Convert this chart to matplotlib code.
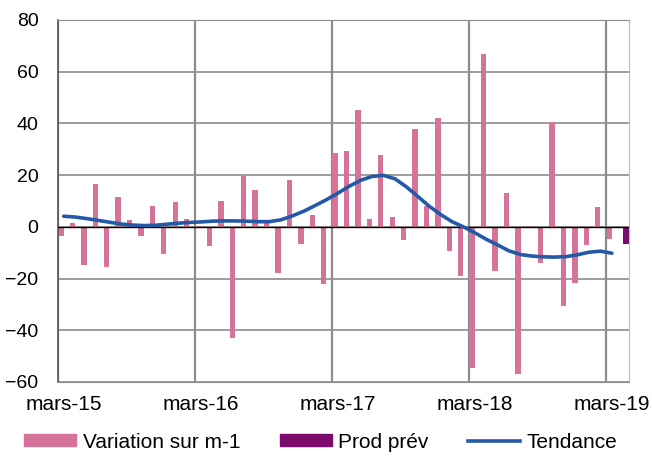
import matplotlib
matplotlib.use("Agg")
import matplotlib.pyplot as plt
from matplotlib.patches import Patch
from matplotlib.lines import Line2D

plt.rcParams['font.family'] = ['Liberation Sans', 'DejaVu Sans']

# Monthly data, mars-15 .. avril-19
month_labels = ['mars-15', 'mars-16', 'mars-17', 'mars-18', 'mars-19']
variation = [-3.5, 1.3, -14.8, 16.6, -15.6, 11.4, 2.8, -3.6, 8.0, -10.6, 9.8, 3.1,
             0.5, -7.5, 9.9, -43.1, 19.5, 14.1, 1.5, -17.9, 18.1, -6.5, 4.4, -22.2,
             28.6, 29.2, 45.2, 3.1, 27.7, 3.9, -5.2, 37.8, 8.0, 42.2, -9.5, -19.1,
             -54.5, 66.8, -17.2, 13.0, -56.9, 0.4, -14.1, 40.6, -30.8, -21.9, -7.2, 7.6,
             -4.8]
prod_prev = [-6.8]          # avril-19
tendance = [4.1, 3.8, 3.2, 2.5, 1.8, 1.1, 0.7, 0.5, 0.6, 1.0, 1.4, 1.7,
            1.9, 2.2, 2.3, 2.3, 2.2, 2.0, 2.0, 2.7, 4.2, 6.0, 8.2, 10.5,
            13.0, 15.7, 18.0, 19.5, 19.9, 18.6, 15.5, 11.8, 8.0, 4.8, 2.0, 0.0,
            -2.3, -4.8, -7.0, -9.3, -10.7, -11.3, -11.6, -11.7, -11.5, -10.8, -9.8, -9.4,
            -10.2]

n_months = len(variation) + len(prod_prev)
pink = '#D5739A'
purple = '#7B0C6E'
blue = '#2459A8'
grid_c = '#8C8C8C'

fig = plt.figure(figsize=(6.52, 4.57), dpi=100)
ax = fig.add_axes([58/652, 1-382/457, (629-58)/652, (382-20)/457])

w = 0.47
x_var = [i - w/2 for i in range(len(variation))]
x_prev = [len(variation) + w/2 + i for i in range(len(prod_prev))]
ax.bar(x_var, variation, width=w, color=pink, zorder=2)
ax.bar(x_prev, prod_prev, width=w, color=purple, zorder=2)
ax.plot(range(len(tendance)), tendance, color=blue, lw=2.6, zorder=4,
        solid_capstyle='round')
ax.axhline(0, color='black', lw=1.0, zorder=3)

ax.set_xlim(-0.5, n_months - 0.5)
ax.set_ylim(-60, 80)
ax.set_yticks(range(-60, 81, 20))
ax.yaxis.grid(True, color=grid_c, lw=1.2, zorder=0)
for gx in range(0, n_months, 12):
    ax.axvline(gx - 0.5, color=grid_c, lw=1.6, zorder=0)
ax.set_xticks(list(range(0, n_months, 12)))
ax.set_xticklabels(month_labels)
ax.tick_params(axis='both', length=0)
ax.tick_params(axis='y', pad=14, labelsize=14)
ax.tick_params(axis='x', pad=9, labelsize=15)
ax.set_axisbelow(True)
ax.spines['left'].set_color('#555555')
ax.spines['left'].set_linewidth(1.2)
ax.spines['bottom'].set_color(grid_c)
ax.spines['top'].set_color(grid_c)
ax.spines['right'].set_color('#BBBBBB')

handles = [Patch(color=pink), Patch(color=purple), Line2D([], [], color=blue, lw=2.6)]
labels = ['Variation sur m-1', 'Prod prév', 'Tendance']
fig.legend(handles, labels, loc='center', bbox_to_anchor=(0.492, 1-442/457), ncol=3,
           frameon=False, fontsize=15, handlelength=2.5, handleheight=0.45,
           handletextpad=0.3, columnspacing=1.9)

fig.savefig('out.png', dpi=100)
